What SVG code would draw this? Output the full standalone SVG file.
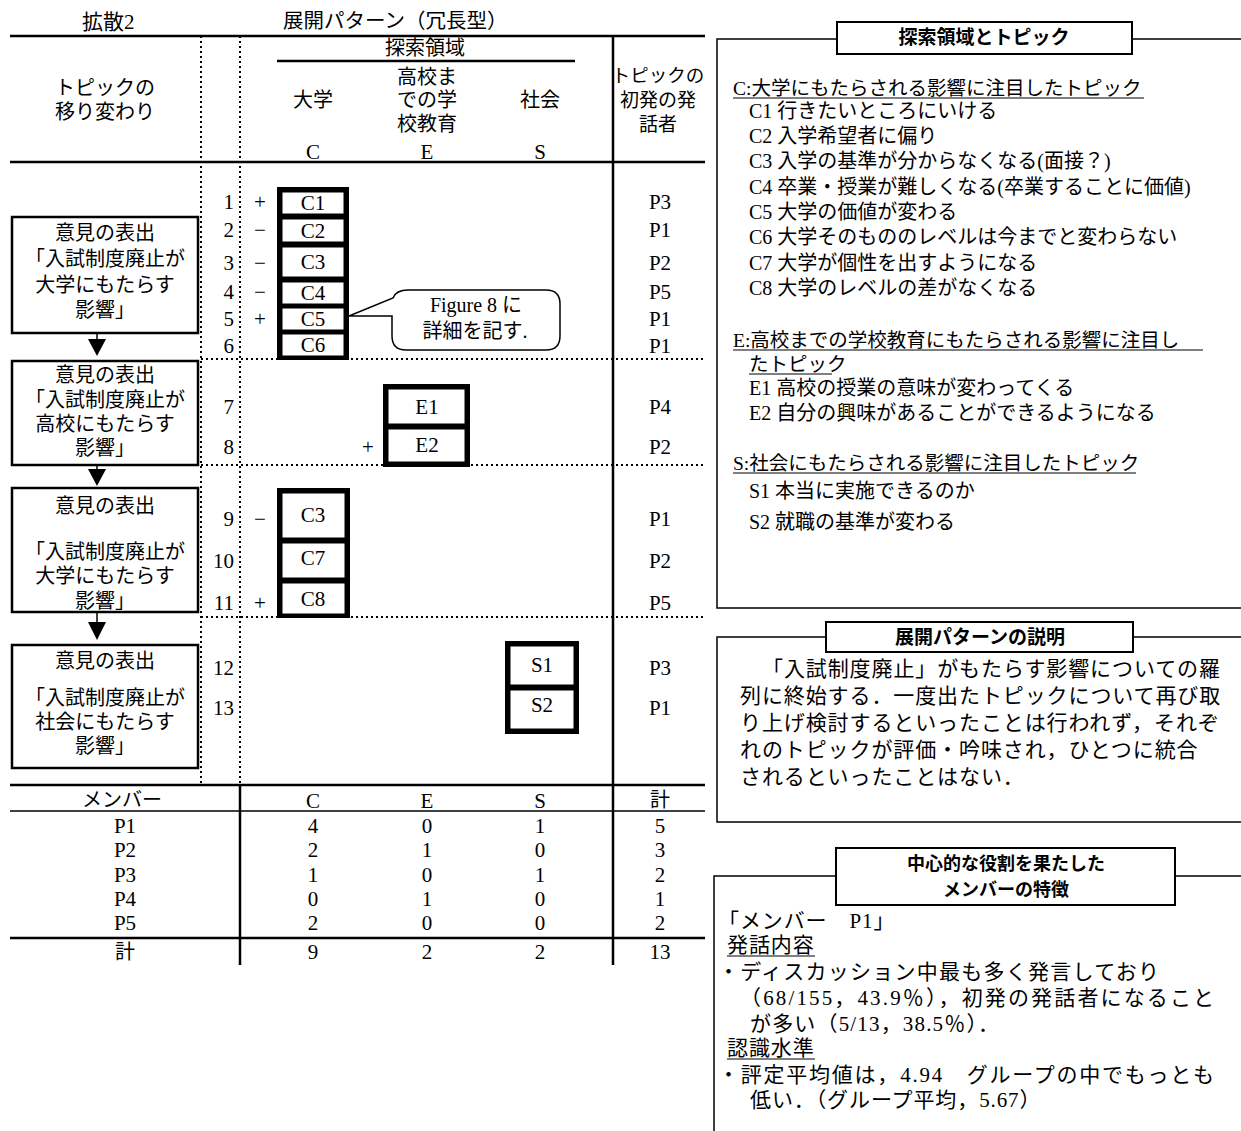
<svg xmlns="http://www.w3.org/2000/svg" width="1241" height="1131" viewBox="0 0 1241 1131">
<style>
text{font-family:"Liberation Serif","Noto Sans CJK JP",serif;font-size:20px;fill:#000}
.m{text-anchor:middle}
.e{text-anchor:end}
.n{font-size:21px}
.bd{font-family:"Noto Sans CJK JP",sans-serif;font-weight:bold;font-size:19px}
.p{font-size:21px;letter-spacing:0.9px}
.thick{stroke:#000;stroke-width:2.5;fill:none}
.thin{stroke:#000;stroke-width:1.5;fill:none}
.dot{stroke:#000;stroke-width:2;stroke-dasharray:2 3;fill:none}
.box{fill:#fff;stroke:#000;stroke-width:2.5}
.blk{fill:#000}
.cell{fill:#fff;stroke:#000;stroke-width:1}
.ttl{fill:#fff;stroke:#000;stroke-width:2}
</style>
<rect width="1241" height="1131" fill="#fff"/>

<g id="grid">
  <text x="82" y="29" style="font-size:21px">拡散2</text>
  <text x="283" y="28" style="font-size:20.5px">展開パターン（冗長型）</text>
  <line class="thick" x1="10" y1="36" x2="705" y2="36"/>
  <line class="thick" x1="10" y1="162" x2="705" y2="162"/>
  <line class="dot" x1="201" y1="36" x2="201" y2="785"/>
  <line class="dot" x1="240" y1="36" x2="240" y2="785"/>
  <line class="thick" x1="613" y1="36" x2="613" y2="965"/>
  <text class="m" x="425" y="55">探索領域</text>
  <line class="thick" x1="277" y1="61" x2="575" y2="61"/>
  <text class="m" x="427" y="84">高校ま</text>
  <text class="m" x="427" y="107">での学</text>
  <text class="m" x="427" y="131">校教育</text>
  <text class="m" x="313" y="107">大学</text>
  <text class="m" x="540" y="107">社会</text>
  <text class="m n" x="313" y="159">C</text>
  <text class="m n" x="427" y="159">E</text>
  <text class="m n" x="540" y="159">S</text>
  <text class="m" x="658" y="82" style="font-size:18.5px">トピックの</text>
  <text class="m" x="658" y="107" style="font-size:19px">初発の発</text>
  <text class="m" x="658" y="131" style="font-size:19px">話者</text>
  <text class="m" x="105" y="95">トピックの</text>
  <text class="m" x="105" y="119">移り変わり</text>
  <line class="dot" x1="201" y1="359" x2="705" y2="359"/>
  <line class="dot" x1="201" y1="465" x2="705" y2="465"/>
  <line class="dot" x1="201" y1="617" x2="705" y2="617"/>
</g>

<g id="rows">
  <text class="e n" x="234" y="209">1</text>
  <text class="e n" x="234" y="237">2</text>
  <text class="e n" x="234" y="270">3</text>
  <text class="e n" x="234" y="299">4</text>
  <text class="e n" x="234" y="326">5</text>
  <text class="e n" x="234" y="353">6</text>
  <text class="e n" x="234" y="414">7</text>
  <text class="e n" x="234" y="454">8</text>
  <text class="e n" x="234" y="526">9</text>
  <text class="e n" x="234" y="568">10</text>
  <text class="e n" x="234" y="610">11</text>
  <text class="e n" x="234" y="675">12</text>
  <text class="e n" x="234" y="715">13</text>
  <text class="m n" x="260" y="209">+</text>
  <text class="m n" x="260" y="237">−</text>
  <text class="m n" x="260" y="270">−</text>
  <text class="m n" x="260" y="299">−</text>
  <text class="m n" x="260" y="326">+</text>
  <text class="m n" x="368" y="454">+</text>
  <text class="m n" x="260" y="526">−</text>
  <text class="m n" x="260" y="610">+</text>
  <text class="m n" x="660" y="209">P3</text>
  <text class="m n" x="660" y="237">P1</text>
  <text class="m n" x="660" y="270">P2</text>
  <text class="m n" x="660" y="299">P5</text>
  <text class="m n" x="660" y="326">P1</text>
  <text class="m n" x="660" y="353">P1</text>
  <text class="m n" x="660" y="414">P4</text>
  <text class="m n" x="660" y="454">P2</text>
  <text class="m n" x="660" y="526">P1</text>
  <text class="m n" x="660" y="568">P2</text>
  <text class="m n" x="660" y="610">P5</text>
  <text class="m n" x="660" y="675">P3</text>
  <text class="m n" x="660" y="715">P1</text>
</g>

<g id="opinion1">
  <rect class="box" x="12" y="217" width="186" height="116"/>
  <text class="m" x="105" y="240">意見の表出</text>
  <text class="m" x="105" y="266">「入試制度廃止が</text>
  <text class="m" x="105" y="292">大学にもたらす</text>
  <text class="m" x="105" y="317">影響」</text>
</g>
<g id="opinion2">
  <rect class="box" x="12" y="361" width="186" height="104"/>
  <text class="m" x="105" y="382">意見の表出</text>
  <text class="m" x="105" y="407">「入試制度廃止が</text>
  <text class="m" x="105" y="431">高校にもたらす</text>
  <text class="m" x="105" y="455">影響」</text>
</g>
<g id="opinion3">
  <rect class="box" x="12" y="488" width="186" height="124"/>
  <text class="m" x="105" y="513">意見の表出</text>
  <text class="m" x="105" y="559">「入試制度廃止が</text>
  <text class="m" x="105" y="583">大学にもたらす</text>
  <text class="m" x="105" y="608">影響」</text>
</g>
<g id="opinion4">
  <rect class="box" x="12" y="645" width="186" height="123"/>
  <text class="m" x="105" y="668">意見の表出</text>
  <text class="m" x="105" y="705">「入試制度廃止が</text>
  <text class="m" x="105" y="729">社会にもたらす</text>
  <text class="m" x="105" y="753">影響」</text>
</g>

<g id="topicsC1">
  <rect class="blk" x="277" y="187" width="72" height="173"/>
  <rect class="cell" x="282" y="192" width="62" height="22"/>
  <rect class="cell" x="282" y="219" width="62" height="23"/>
  <rect class="cell" x="282" y="247" width="62" height="30"/>
  <rect class="cell" x="282" y="282" width="62" height="22"/>
  <rect class="cell" x="282" y="308" width="62" height="22"/>
  <rect class="cell" x="282" y="334" width="62" height="22"/>
  <text class="m n" x="313" y="210">C1</text>
  <text class="m n" x="313" y="238">C2</text>
  <text class="m n" x="313" y="269">C3</text>
  <text class="m n" x="313" y="300">C4</text>
  <text class="m n" x="313" y="326">C5</text>
  <text class="m n" x="313" y="352">C6</text>
</g>
<g id="topicsE">
  <rect class="blk" x="383" y="384" width="87" height="83"/>
  <rect class="cell" x="388" y="389" width="77" height="35"/>
  <rect class="cell" x="388" y="429" width="77" height="33"/>
  <text class="m n" x="427" y="414">E1</text>
  <text class="m n" x="427" y="452">E2</text>
</g>
<g id="topicsC2">
  <rect class="blk" x="277" y="488" width="73" height="130"/>
  <rect class="cell" x="282" y="493" width="63" height="45"/>
  <rect class="cell" x="282" y="543" width="63" height="35"/>
  <rect class="cell" x="282" y="583" width="63" height="31"/>
  <text class="m n" x="313" y="522">C3</text>
  <text class="m n" x="313" y="565">C7</text>
  <text class="m n" x="313" y="606">C8</text>
</g>
<g id="topicsS">
  <rect class="blk" x="505" y="641" width="74" height="93"/>
  <rect class="cell" x="510" y="646" width="64" height="39"/>
  <rect class="cell" x="510" y="690" width="64" height="39"/>
  <text class="m n" x="542" y="672">S1</text>
  <text class="m n" x="542" y="712">S2</text>
</g>

<g id="callout">
  <path d="M349,316 L393,298 Q396,290 408,290 H546 Q560,290 560,304 V336 Q560,350 546,350 H406 Q392,350 392,336 V316 Z" fill="#fff" stroke="#000" stroke-width="1.5"/>
  <text class="m" x="476" y="312">Figure 8  に</text>
  <text class="m" x="475" y="338">詳細を記す.</text>
</g>

<g id="connectors">
  <line class="thin" x1="97" y1="333" x2="97" y2="340"/>
  <polygon class="blk" points="88,339 106,339 97,356"/>
  <line class="thin" x1="97" y1="465" x2="97" y2="470"/>
  <polygon class="blk" points="88,469 106,469 97,486"/>
  <line class="thin" x1="97" y1="612" x2="97" y2="623"/>
  <polygon class="blk" points="88,622 106,622 97,640"/>
</g>

<g id="summary-table">
  <line class="thick" x1="10" y1="785" x2="705" y2="785"/>
  <line class="thin" x1="10" y1="811" x2="705" y2="811"/>
  <line class="thick" x1="10" y1="938" x2="705" y2="938"/>
  <line class="thick" x1="240" y1="785" x2="240" y2="965"/>
  <text class="m" x="122" y="807">メンバー</text>
  <text class="m n" x="313" y="808">C</text>
  <text class="m n" x="427" y="808">E</text>
  <text class="m n" x="540" y="808">S</text>
  <text class="m" x="660" y="807">計</text>
  <text class="m n" x="125" y="833">P1</text><text class="m n" x="313" y="833">4</text><text class="m n" x="427" y="833">0</text><text class="m n" x="540" y="833">1</text><text class="m n" x="660" y="833">5</text>
  <text class="m n" x="125" y="857">P2</text><text class="m n" x="313" y="857">2</text><text class="m n" x="427" y="857">1</text><text class="m n" x="540" y="857">0</text><text class="m n" x="660" y="857">3</text>
  <text class="m n" x="125" y="882">P3</text><text class="m n" x="313" y="882">1</text><text class="m n" x="427" y="882">0</text><text class="m n" x="540" y="882">1</text><text class="m n" x="660" y="882">2</text>
  <text class="m n" x="125" y="906">P4</text><text class="m n" x="313" y="906">0</text><text class="m n" x="427" y="906">1</text><text class="m n" x="540" y="906">0</text><text class="m n" x="660" y="906">1</text>
  <text class="m n" x="125" y="930">P5</text><text class="m n" x="313" y="930">2</text><text class="m n" x="427" y="930">0</text><text class="m n" x="540" y="930">0</text><text class="m n" x="660" y="930">2</text>
  <text class="m" x="125" y="959">計</text><text class="m n" x="313" y="959">9</text><text class="m n" x="427" y="959">2</text><text class="m n" x="540" y="959">2</text><text class="m n" x="660" y="959">13</text>
</g>

<g id="panel-topics">
  <path class="thin" d="M1241,608 H717 V39 H837 M1132,39 H1241"/>
  <rect class="ttl" x="837" y="22" width="295" height="32"/>
  <text class="m bd" x="984" y="44">探索領域とトピック</text>
  <text x="733" y="95" style="font-size:19.5px">C:大学にもたらされる影響に注目したトピック</text>
  <line class="thin" x1="733" y1="98" x2="1144" y2="98" style="stroke-width:1"/>
  <text x="749" y="118">C1 行きたいところにいける</text>
  <text x="749" y="143">C2 入学希望者に偏り</text>
  <text x="749" y="168">C3 入学の基準が分からなくなる(面接？)</text>
  <text x="749" y="194">C4 卒業・授業が難しくなる(卒業することに価値)</text>
  <text x="749" y="219">C5 大学の価値が変わる</text>
  <text x="749" y="244">C6 大学そのもののレベルは今までと変わらない</text>
  <text x="749" y="270">C7 大学が個性を出すようになる</text>
  <text x="749" y="295">C8 大学のレベルの差がなくなる</text>
  <text x="733" y="347" style="font-size:19.5px">E:高校までの学校教育にもたらされる影響に注目し</text>
  <line class="thin" x1="733" y1="350" x2="1203" y2="350" style="stroke-width:1"/>
  <text x="749" y="371" style="font-size:19.5px">たトピック</text>
  <line class="thin" x1="749" y1="374" x2="832" y2="374" style="stroke-width:1"/>
  <text x="749" y="395">E1 高校の授業の意味が変わってくる</text>
  <text x="749" y="420">E2 自分の興味があることができるようになる</text>
  <text x="733" y="470" style="font-size:19.5px">S:社会にもたらされる影響に注目したトピック</text>
  <line class="thin" x1="733" y1="473" x2="1136" y2="473" style="stroke-width:1"/>
  <text x="749" y="498">S1 本当に実施できるのか</text>
  <text x="749" y="529">S2 就職の基準が変わる</text>
</g>

<g id="panel-pattern">
  <path class="thin" d="M1241,822 H717 V637 H826 M1133,637 H1241"/>
  <rect class="ttl" x="826" y="622" width="307" height="30"/>
  <text class="m bd" x="980" y="644">展開パターンの説明</text>
  <text class="p" x="762" y="676">「入試制度廃止」がもたらす影響についての羅</text>
  <text class="p" x="740" y="703">列に終始する．一度出たトピックについて再び取</text>
  <text class="p" x="740" y="730">り上げ検討するといったことは行われず，それぞ</text>
  <text class="p" x="740" y="757">れのトピックが評価・吟味され，ひとつに統合</text>
  <text class="p" x="740" y="784">されるといったことはない．</text>
</g>

<g id="panel-member">
  <path class="thin" d="M714,1131 V876 H836 M1175,876 H1241"/>
  <rect class="ttl" x="836" y="848" width="339" height="57"/>
  <text class="m bd" x="1006" y="870" style="font-size:18px">中心的な役割を果たした</text>
  <text class="m bd" x="1006" y="896" style="font-size:18px">メンバーの特徴</text>
  <text class="p" x="718" y="928">「メンバー　P1」</text>
  <text class="p" x="727" y="952">発話内容</text>
  <line class="thin" x1="727" y1="956" x2="815" y2="956" style="stroke-width:1"/>
  <text class="p" x="718" y="979" textLength="442" lengthAdjust="spacing">・ディスカッション中最も多く発言しており</text>
  <text class="p" x="740" y="1005" textLength="475" lengthAdjust="spacing">（68/155，43.9％），初発の発話者になること</text>
  <text class="p" x="750" y="1031" textLength="250" lengthAdjust="spacing">が多い（5/13，38.5％）．</text>
  <text class="p" x="727" y="1055">認識水準</text>
  <line class="thin" x1="727" y1="1059" x2="815" y2="1059" style="stroke-width:1"/>
  <text class="p" x="718" y="1082" textLength="497" lengthAdjust="spacing">・評定平均値は，4.94　グループの中でもっとも</text>
  <text class="p" x="750" y="1107">低い．（グループ平均，5.67）</text>
</g>
</svg>
